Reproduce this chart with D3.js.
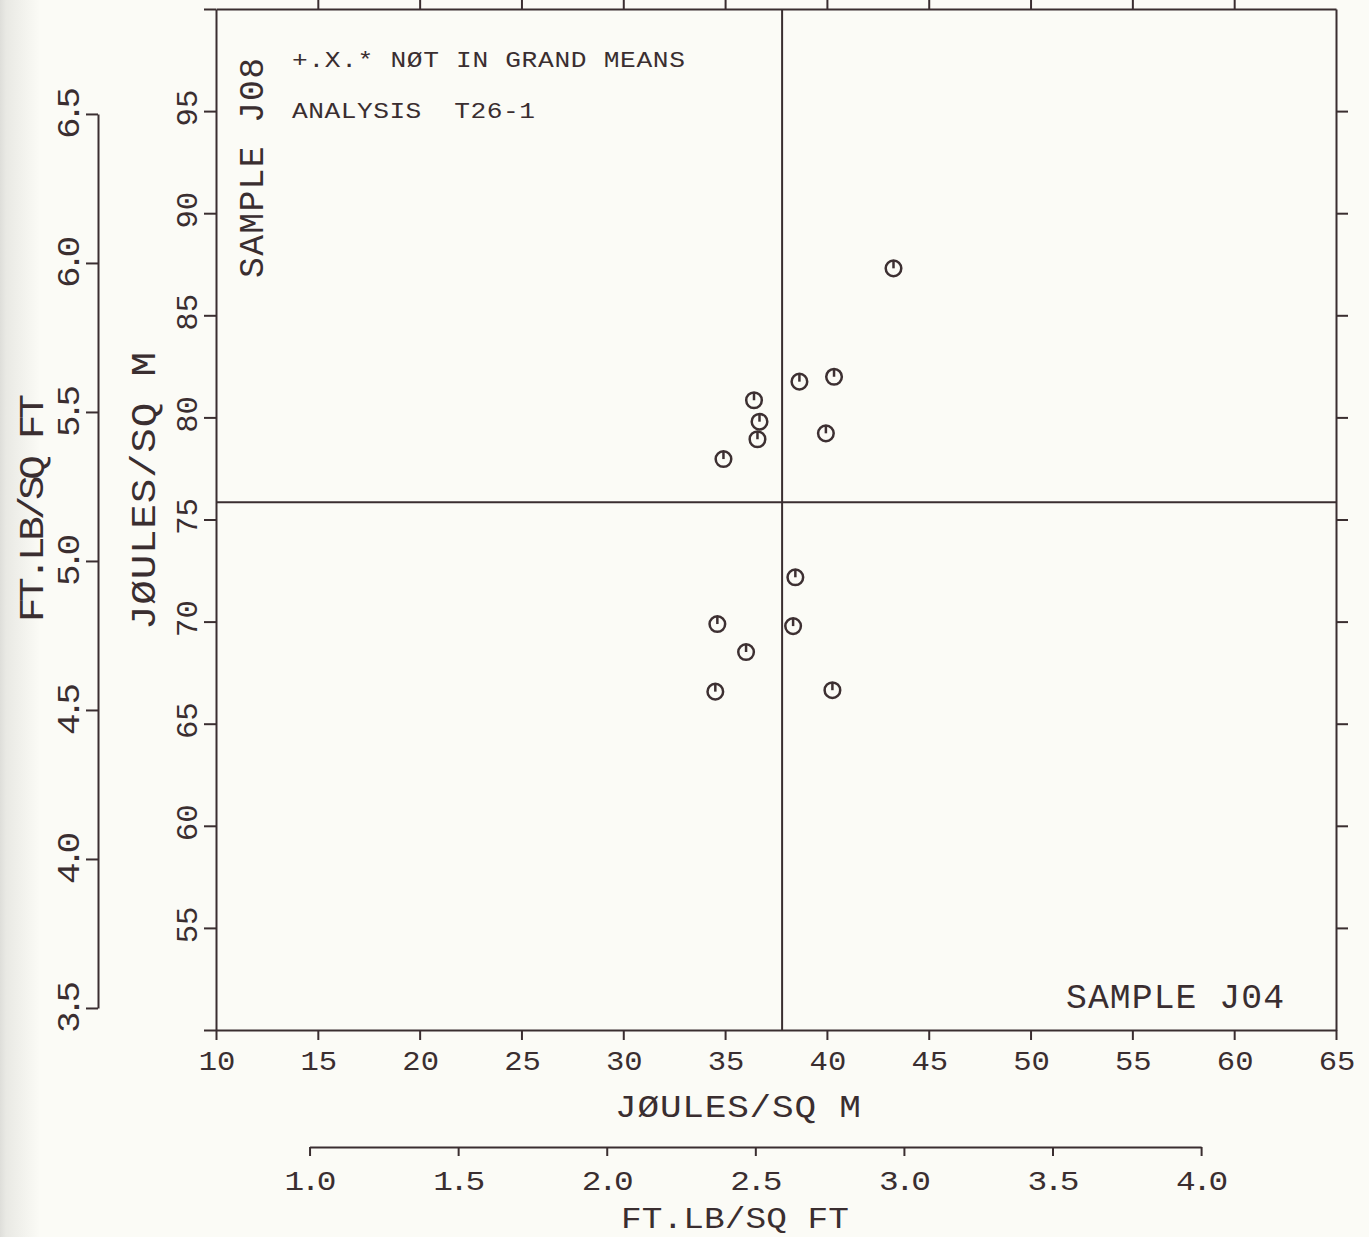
<!DOCTYPE html>
<html>
<head>
<meta charset="utf-8">
<script src="https://cdnjs.cloudflare.com/ajax/libs/d3/7.8.5/d3.min.js"></script>
<style>
  body { margin: 0; background: #fbfbf6; }
  text { font-family: "Liberation Mono", "DejaVu Sans Mono", monospace; fill: #3a2e30; white-space: pre; }
</style>
</head>
<body>
<div id="chart"></div>
<script>
// data (J/m^2), sample J04 on x, sample J08 on y
var sampleJ04 = [43.27, 40.35, 38.65, 36.42, 36.69, 36.59, 39.95, 34.92, 38.45, 34.62, 38.34, 36.03, 34.52, 40.27];
var sampleJ08 = [87.30, 81.99, 81.75, 80.84, 79.79, 78.93, 79.22, 77.96, 72.17, 69.88, 69.78, 68.51, 66.57, 66.64];
var grandMeanX = 37.8;
var grandMeanY = 75.85;

var xTicks = [10, 15, 20, 25, 30, 35, 40, 45, 50, 55, 60, 65];
var yTicks = [50, 55, 60, 65, 70, 75, 80, 85, 90, 95, 100];
var yLabels = [55, 60, 65, 70, 75, 80, 85, 90, 95];
var ftTicksX = [1.0, 1.5, 2.0, 2.5, 3.0, 3.5, 4.0];
var ftTicksY = [3.5, 4.0, 4.5, 5.0, 5.5, 6.0, 6.5];
var K = 14.5939; // J/m^2 per ft.lb/ft^2

var width = 1369, height = 1237;
var ink = "#3a2e30";

var svg = d3.select("#chart").append("svg")
	.attr("width", width)
	.attr("height", height);

// paper, with the greyish left edge of the scan
var grad = svg.append("defs").append("linearGradient")
	.attr("id", "edge").attr("x1", 0).attr("x2", 1).attr("y1", 0).attr("y2", 0);
grad.append("stop").attr("offset", "0").attr("stop-color", "#dededa");
grad.append("stop").attr("offset", "0.15").attr("stop-color", "#e9e9e4");
grad.append("stop").attr("offset", "1").attr("stop-color", "#fbfbf6");
svg.append("rect").attr("width", width).attr("height", height).attr("fill", "#fbfbf6");
svg.append("rect").attr("width", 40).attr("height", height).attr("fill", "url(#edge)");

var x = d3.scaleLinear().domain([10, 65]).range([216, 1336]);
var y = d3.scaleLinear().domain([50, 100]).range([1030, 9]);
var xFt = d3.scaleLinear().domain([1, 4]).range([x(1 * K), x(4 * K)]);
var yFt = d3.scaleLinear().domain([3.5, 6.5]).range([y(3.5 * K), y(6.5 * K)]);

function styleAxis(g) {
	g.selectAll("path, line").attr("stroke", ink).attr("stroke-width", 2);
	g.selectAll("text").remove();
}

// frame axes
svg.append("g").attr("transform", "translate(0,1030)")
	.call(d3.axisBottom(x).tickValues(xTicks).tickSize(10).tickSizeOuter(0))
	.call(styleAxis);
svg.append("g").attr("transform", "translate(0,9)")
	.call(d3.axisTop(x).tickValues(xTicks.slice(1, -1)).tickSize(10).tickSizeOuter(0))
	.call(styleAxis);
svg.append("g").attr("transform", "translate(216,0)")
	.call(d3.axisLeft(y).tickValues(yTicks).tickSize(12).tickSizeOuter(0))
	.call(styleAxis);
svg.append("g").attr("transform", "translate(1336,0)")
	.call(d3.axisRight(y).tickValues(yLabels).tickSize(12).tickSizeOuter(0))
	.call(styleAxis);

// secondary ft.lb/sq ft axes
svg.append("g").attr("transform", "translate(0,1147)")
	.call(d3.axisBottom(xFt).tickValues(ftTicksX).tickSize(9).tickSizeOuter(0))
	.call(styleAxis);
svg.append("g").attr("transform", "translate(98,0)")
	.call(d3.axisLeft(yFt).tickValues(ftTicksY).tickSize(12).tickSizeOuter(0))
	.call(styleAxis);

// grand mean lines
svg.append("line")
	.attr("x1", x(grandMeanX)).attr("x2", x(grandMeanX))
	.attr("y1", y(100)).attr("y2", y(50))
	.attr("stroke", ink).attr("stroke-width", 2);
svg.append("line")
	.attr("x1", x(10)).attr("x2", x(65))
	.attr("y1", y(grandMeanY)).attr("y2", y(grandMeanY))
	.attr("stroke", ink).attr("stroke-width", 2);

// text helpers: size by cap height, widen glyphs like the plotter font,
// optionally stretch to the measured span
var SX = 1.18;
function label(str, cx, cy, cap, len, anchor, sx) {
	sx = sx || SX;
	var t = svg.append("text")
		.attr("transform", "translate(" + cx + "," + (cy + cap / 2) + ") scale(" + sx + ",1)")
		.attr("font-size", cap / 0.72)
		.attr("text-anchor", anchor || "middle")
		.text(str);
	if (len) t.attr("textLength", len / sx).attr("lengthAdjust", "spacing");
	return t;
}
function vlabel(str, cx, cy, cap, len, sx) {
	sx = sx || SX;
	var t = svg.append("text")
		.attr("transform", "translate(" + cx + "," + cy + ") rotate(-90) scale(" + sx + ",1)")
		.attr("y", cap / 2)
		.attr("font-size", cap / 0.72)
		.attr("text-anchor", "middle")
		.text(str);
	if (len) t.attr("textLength", len / sx).attr("lengthAdjust", "spacing");
	return t;
}

// tick labels
xTicks.forEach(function(d) { label(String(d), x(d) + 1, 1060, 20, null, "middle", 1.1); });
yLabels.forEach(function(d) { vlabel(String(d), 186, y(d) - 3, 21, null, 1.05); });
ftTicksX.forEach(function(d) { label(d3.format(".1f")(d), xFt(d) + 1, 1180, 20, 52); });
ftTicksY.forEach(function(d) { vlabel(d3.format(".1f")(d), 68, yFt(d) - 1, 22, 52); });

// axis titles
label("JØULES/SQ M", 738, 1106, 22, 246);
label("FT.LB/SQ FT", 735, 1217, 21, 228);
vlabel("JØULES/SQ M", 142, 491, 25, 278);
vlabel("FT.LB/SQ FT", 30, 508, 25, 228);

// sample names and notes
vlabel("SAMPLE J08", 250, 168, 25, 220, 1.0);
label("SAMPLE J04", 1175, 995, 25, 218, "middle", 1.0);
label("+.X.* NØT IN GRAND MEANS", 292, 59, 16, 393, "start");
label("ANALYSIS  T26-1", 292, 110, 16, 243, "start");

// points: plotter circle with a stroke from the top to the centre
var pts = sampleJ04.map(function(d, i) { return [d, sampleJ08[i]]; });
var marks = svg.selectAll(".pt")
	.data(pts)
	.enter().append("g")
	.attr("class", "pt")
	.attr("transform", function(d) { return "translate(" + x(d[0]) + "," + y(d[1]) + ")"; });
marks.append("circle")
	.attr("r", 7.8)
	.attr("fill", "none")
	.attr("stroke", "#3d3032")
	.attr("stroke-width", 2.5);
marks.append("line")
	.attr("x1", 0).attr("x2", 0)
	.attr("y1", -7.8).attr("y2", 0)
	.attr("stroke", "#3d3032")
	.attr("stroke-width", 2.5);
</script>
</body>
</html>
